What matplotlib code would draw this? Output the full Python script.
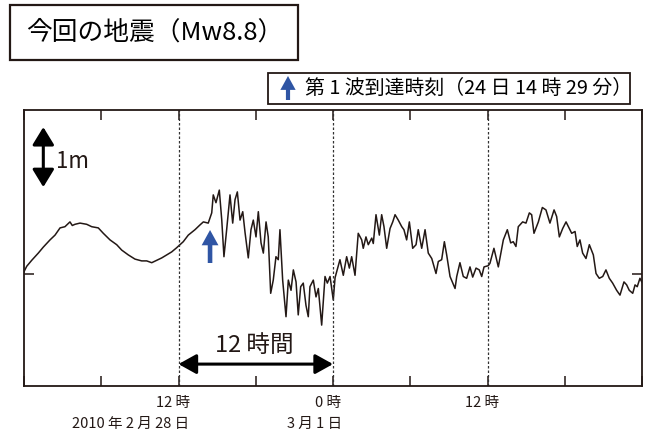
"""Tsunami waveform record for the Mw8.8 event (2010-02-28 to 03-02)."""

import matplotlib
matplotlib.use("Agg")
import matplotlib.pyplot as plt
import matplotlib.transforms as mtransforms
from matplotlib.patches import Rectangle, FancyArrowPatch

plt.rcParams['font.family'] = ['Noto Sans CJK JP', 'DejaVu Sans']

# ════════════════════════════════════════════════════════════════════════════
# DATA: hours since 2010-02-28 00:00, sea level (m) relative to reference
# ════════════════════════════════════════════════════════════════════════════

hours = [
    0.0, 0.21, 0.60, 1.11, 1.50, 2.02, 2.41, 2.80, 3.18, 3.57, 3.75, 3.96,
    4.35, 4.87, 5.26, 5.77, 6.16, 6.68, 7.20, 7.59, 8.10, 8.62, 9.14, 9.53,
    9.92, 10.31, 10.70, 11.08, 11.47, 11.86, 12.37, 12.76, 13.28, 13.67, 13.93,
    14.31, 14.58, 14.70, 14.91, 15.17, 15.36, 15.53, 15.74, 16.00, 16.21,
    16.39, 16.57, 16.78, 16.99, 17.17, 17.42, 17.63, 17.81, 18.02, 18.20,
    18.41, 18.59, 18.80, 18.97, 19.16, 19.36, 19.57, 19.75, 19.88, 20.09,
    20.35, 20.53, 20.74, 20.92, 21.13, 21.30, 21.49, 21.69, 21.90, 22.08,
    22.21, 22.47, 22.68, 22.86, 23.12, 23.38, 23.56, 23.77, 24.02, 24.16,
    24.54, 24.80, 25.06, 25.27, 25.45, 25.71, 25.96, 26.23, 26.35, 26.56,
    26.74, 27.01, 27.13, 27.34, 27.60, 27.78, 27.96, 28.17, 28.43, 28.64,
    28.82, 29.07, 29.34, 29.51, 29.72, 29.93, 30.19, 30.45, 30.62, 30.89,
    31.15, 31.40, 31.67, 32.00, 32.18, 32.44, 32.65, 32.83, 33.09, 33.48,
    33.61, 33.86, 34.12, 34.38, 34.64, 34.85, 35.11, 35.36, 35.55, 35.73,
    36.06, 36.19, 36.50, 36.84, 37.23, 37.54, 37.80, 38.00, 38.21, 38.39,
    38.73, 38.99, 39.25, 39.43, 39.61, 39.95, 40.26, 40.54, 40.85, 41.17,
    41.37, 41.58, 41.84, 42.10, 42.35, 42.54, 42.80, 42.97, 43.18, 43.39,
    43.65, 43.91, 44.22, 44.43, 44.68, 44.95, 45.20, 45.46, 45.72, 46.03,
    46.29, 46.60, 46.81, 47.01, 47.28, 47.46, 47.63, 47.84, 47.98,
]

level_m = [
    0.03, 0.12, 0.22, 0.34, 0.44, 0.56, 0.64, 0.76, 0.78, 0.86, 0.80, 0.82,
    0.84, 0.82, 0.78, 0.76, 0.67, 0.56, 0.48, 0.39, 0.31, 0.24, 0.21, 0.21,
    0.18, 0.22, 0.26, 0.31, 0.36, 0.43, 0.53, 0.64, 0.73, 0.81, 0.86,
    0.84, 1.01, 1.31, 1.18, 1.39, 0.89, 0.28, 0.73, 1.31, 0.84,
    1.23, 1.36, 0.89, 1.03, 0.68, 0.26, 0.73, 0.89, 0.61, 1.03,
    0.51, 0.34, 0.86, 0.61, -0.33, -0.11, 0.28, 0.23, 0.73, -0.11,
    -0.72, -0.11, -0.28, 0.06, -0.14, -0.69, -0.22, -0.16, -0.53, -0.72,
    -0.22, -0.11, -0.39, -0.25, -0.86, -0.05, -0.16, -0.05, -0.44, -0.07,
    0.23, -0.03, 0.28, 0.09, 0.28, -0.03, 0.67, 0.56, 0.42, 0.61,
    0.48, 0.59, 0.50, 0.98, 0.64, 0.98, 0.78, 0.42, 0.75, 0.86,
    0.98, 0.89, 0.78, 0.73, 0.56, 0.86, 0.42, 0.48, 0.73, 0.42,
    0.73, 0.34, 0.25, 0.00, 0.20, 0.23, 0.53, 0.31, -0.05, -0.25,
    -0.05, 0.18, -0.05, -0.08, 0.11, -0.06, 0.09, 0.06, -0.05, 0.11,
    0.13, 0.17, 0.42, 0.11, 0.56, 0.73, 0.51, 0.53, 0.45, 0.78,
    0.86, 0.84, 1.01, 0.98, 0.67, 0.86, 1.10, 1.06, 0.84, 1.06,
    0.95, 0.61, 0.75, 0.86, 0.75, 0.67, 0.70, 0.45, 0.56, 0.34,
    0.25, 0.48, 0.31, 0.00, -0.08, -0.05, 0.06, -0.08, -0.16, -0.28,
    -0.36, -0.14, -0.19, -0.28, -0.33, -0.19, -0.22, -0.08, -0.14,
]

ARRIVAL_H = 14.45          # first wave arrival marker
HOUR_GRID = [12, 24, 36]   # dashed half-day lines
tick_hours = [0, 6, 12, 18, 24, 30, 36, 42, 48]
hour_labels = ["12 時", "0 時", "12 時"]
date_labels = [(8.3, "2010 年 2 月 28 日"), (22.6, "3 月 1 日")]

INK = '#231815'
BLUE = '#2f55a4'
W, H = 651, 437

# ════════════════════════════════════════════════════════════════════════════
# FIGURE
# ════════════════════════════════════════════════════════════════════════════

fig = plt.figure(figsize=(W / 100, H / 100), dpi=100)
ax = fig.add_axes([24 / W, 1 - 386 / H, 618 / W, 276 / H])

ax.plot(hours, level_m, color=INK, lw=1.1)
for h in HOUR_GRID:
    ax.axvline(h, color='#333333', lw=0.9, ls=(0, (2, 1.6)))

ax.set_xlim(0, 48)
ax.set_ylim(-1.875, 2.725)
ax.set_xticks(tick_hours)
ax.set_xticklabels([])
ax.set_yticks([0])
ax.set_yticklabels([])
ax.tick_params(direction='in', length=7, width=1.1, color=INK,
               top=True, bottom=True, left=True, right=True)
for sp in ax.spines.values():
    sp.set_color(INK)
    sp.set_linewidth(1.3)

# x labels below the axis (data x, figure y)
blend = mtransforms.blended_transform_factory(ax.transData, fig.transFigure)
for h, lab in zip(HOUR_GRID, hour_labels):
    ax.text(h - 0.4, 1 - 403 / H, lab, transform=blend, ha='center', va='center',
            fontsize=10.5, color=INK)
for h, lab in date_labels:
    ax.text(h, 1 - 424 / H, lab, transform=blend, ha='center', va='center',
            fontsize=10.5, color=INK)

# scale bar: 1 m
ax.add_patch(FancyArrowPatch((1.5, 1.44), (1.5, 2.44),
                             arrowstyle='<|-|>,head_length=0.9,head_width=0.55',
                             mutation_scale=12, lw=2.2, color='black',
                             shrinkA=0, shrinkB=0))
ax.text(2.45, 1.86, "1m", ha='left', va='center', fontsize=16, color=INK)

# arrival arrow
ax.add_patch(FancyArrowPatch((ARRIVAL_H, 0.175), (ARRIVAL_H, 0.725),
                             arrowstyle='simple,head_length=1.0,head_width=1.1,tail_width=0.3',
                             mutation_scale=11, color=BLUE, lw=0,
                             shrinkA=0, shrinkB=0))

# 12 hour span
ax.add_patch(FancyArrowPatch((12, -1.51), (24, -1.51),
                             arrowstyle='<|-|>,head_length=0.9,head_width=0.5',
                             mutation_scale=12, lw=2.2, color='black',
                             shrinkA=0, shrinkB=0))
ax.text(17.9, -1.20, "12 時間", ha='center', va='center', fontsize=17, color=INK)

# title box
fig.patches.append(Rectangle((10 / W, 1 - 60 / H), 288 / W, 55 / H,
                             transform=fig.transFigure, fill=False,
                             lw=1.6, ec=INK))
fig.text(155 / W, 1 - 33 / H, "今回の地震（Mw8.8）", ha='center', va='center',
         fontsize=18.5, color='black')

# legend box
fig.patches.append(Rectangle((268 / W, 1 - 104 / H), 362 / W, 31 / H,
                             transform=fig.transFigure, fill=False,
                             lw=1.3, ec=INK))
fig.patches.append(FancyArrowPatch((288 / W, 1 - 100 / H), (288 / W, 1 - 76 / H),
                                   transform=fig.transFigure,
                                   arrowstyle='simple,head_length=1.0,head_width=1.1,tail_width=0.3',
                                   mutation_scale=10, color=BLUE, lw=0,
                                   shrinkA=0, shrinkB=0))
fig.text(305 / W, 1 - 88 / H, "第 1 波到達時刻（24 日 14 時 29 分）",
         ha='left', va='center', fontsize=14.3, color='black')

fig.savefig("out.png", dpi=100)
plt.close(fig)
print("Saved: out.png")
